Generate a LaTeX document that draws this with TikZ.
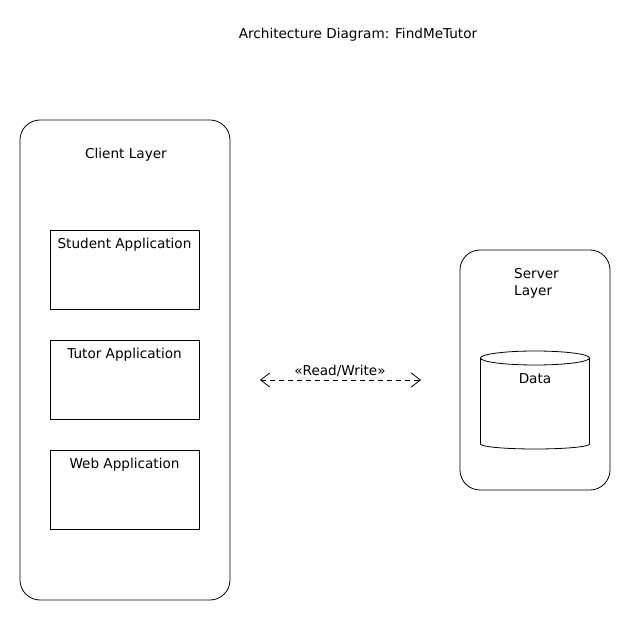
\documentclass[tikz,border=0pt]{standalone}
\usepackage{fontspec}
\setmainfont{DejaVu Sans}
\usetikzlibrary{arrows.meta}
\begin{document}
\begin{tikzpicture}[x=1pt,y=-1pt,
  txt/.style={inner sep=0pt,font=\fontsize{13.6}{17}\selectfont},
  layer/.style={draw,line width=0.8pt,rounded corners=20pt,inner sep=0pt},
  appbox/.style={draw,line width=0.8pt,inner sep=0pt,minimum width=149pt,minimum height=79pt},
  rw/.style={dashed,line width=0.8pt,dash pattern=on 5pt off 4pt,{Straight Barb[length=9pt,width=14pt,line width=0.8pt]}-{Straight Barb[length=9pt,width=14pt,line width=0.8pt]}}]
\useasboundingbox (0,0) rectangle (630,620);
\node[txt] (title) at (358,35) {Architecture Diagram: FindMeTutor};
% client layer
\node[layer,minimum width=210pt,minimum height=480pt] (client) at (125,360) {};
\node[txt] (clientlbl) at (126,155) {Client Layer};
\node[appbox] (student) at (124.5,269.5) {};
\node[txt] (studentlbl) at ([yshift=-15pt]student.north) {Student Application};
\node[appbox] (tutor) at (124.5,379.5) {};
\node[txt] (tutorlbl) at ([yshift=-15pt]tutor.north) {Tutor Application};
\node[appbox] (web) at (124.5,489.5) {};
\node[txt] (weblbl) at ([yshift=-15pt]web.north) {Web Application};
% server layer
\node[layer,minimum width=150pt,minimum height=240pt] (server) at (535,370) {};
\node[txt,align=left,anchor=west] (serverlbl) at (514,283.5) {Server\\Layer};
% data cylinder
\node[inner sep=0pt,minimum width=110pt,minimum height=86pt] (db) at (535,401) {};
\draw[line width=0.8pt] (480.5,358) -- (480.5,444) arc[start angle=180,end angle=360,x radius=54.5pt,y radius=5pt] -- (589.5,358);
\draw[line width=0.8pt] (535,358) ellipse[x radius=54.5pt,y radius=7pt];
\node[txt] (datalbl) at (535,379) {Data};
% read/write connector
\coordinate (rwa) at (260,380);
\coordinate (rwb) at (421,380);
\draw[rw] (rwa) -- (rwb);
\node[txt] (rwlbl) at (340,371) {«Read/Write»};
\end{tikzpicture}
\end{document}
